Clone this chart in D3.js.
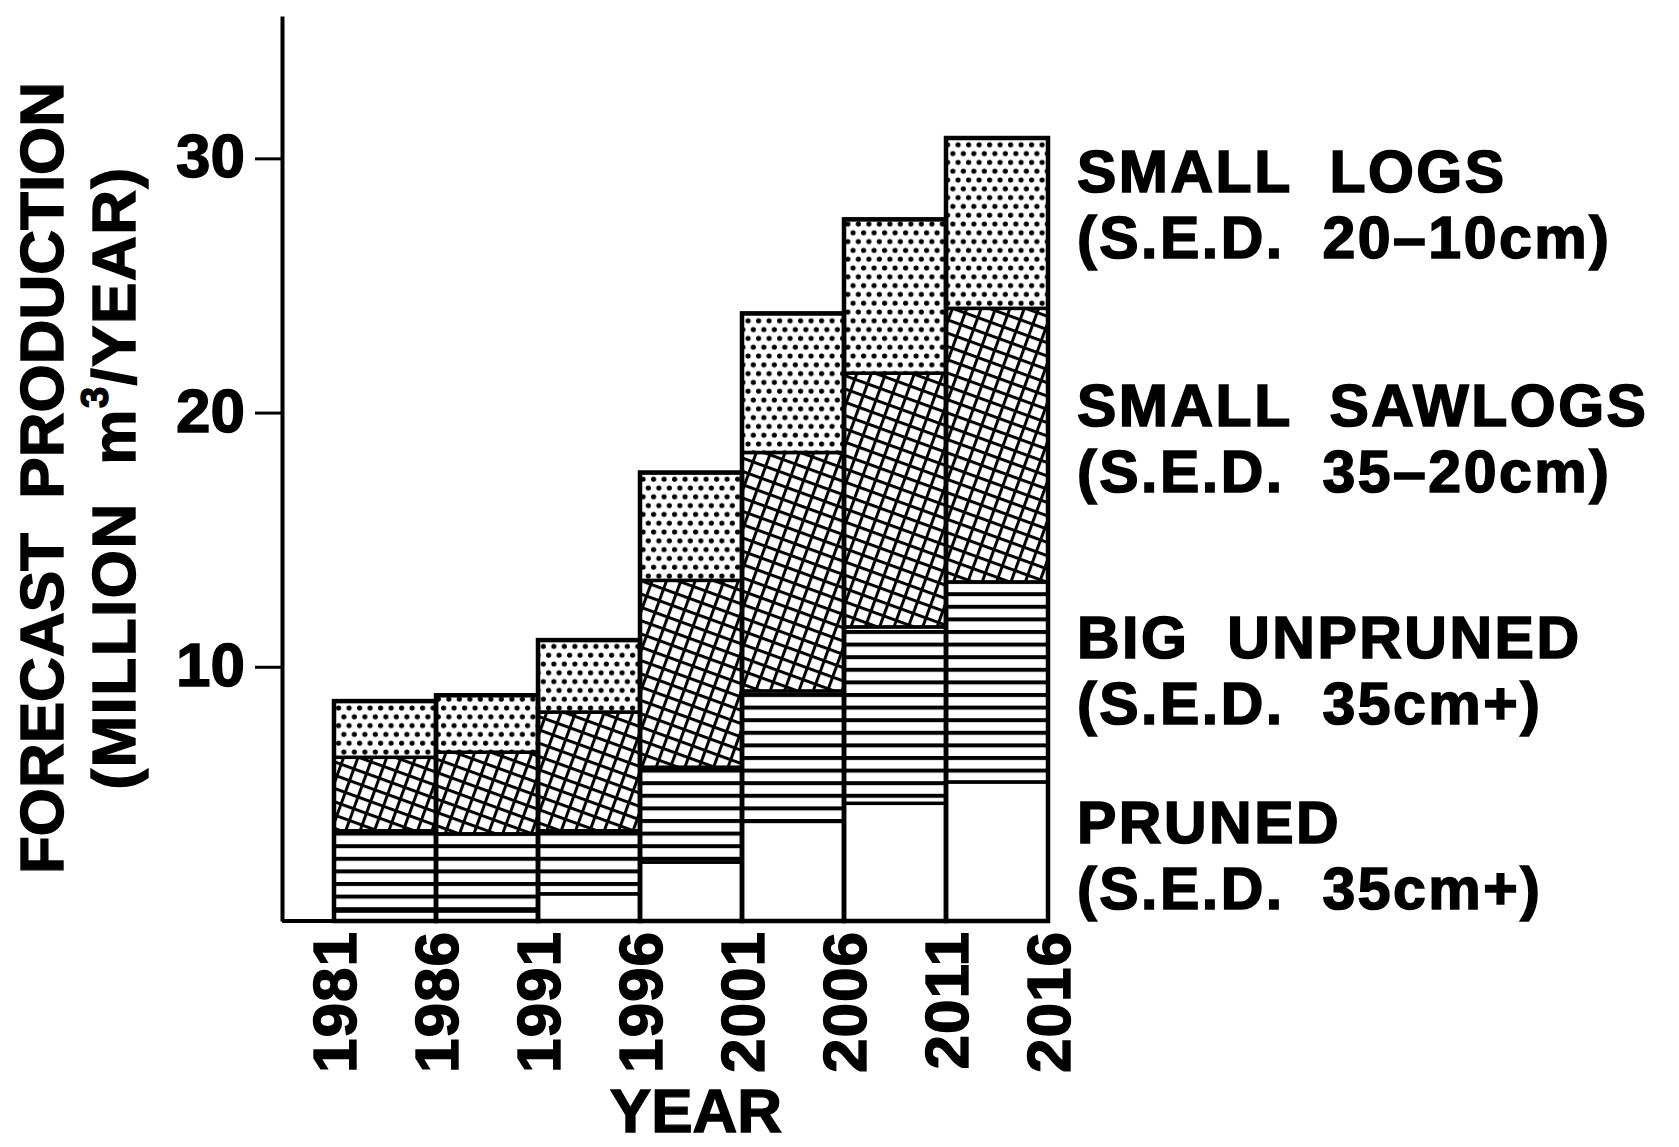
<!DOCTYPE html>
<html>
<head>
<meta charset="utf-8">
<script src="https://cdn.jsdelivr.net/npm/d3@7"></script>
<style>
  html, body { margin: 0; padding: 0; background: #fff; }
  svg { display: block; }
  text { font-family: "Liberation Sans", Arial, Helvetica, sans-serif; font-weight: bold; fill: #000; }
</style>
</head>
<body>
<svg id="chart" width="1679" height="1147"></svg>
<script>
// ---------------- DATA ----------------
const years = [1981, 1986, 1991, 1996, 2001, 2006, 2011, 2016];
const periodStarts = [1981, 1986, 1991, 1996, 2001, 2006, 2011];
const pruned       = [0.40, 0.40, 1.07, 2.32, 3.92, 4.63, 5.47];
const bigUnpruned  = [3.15, 3.03, 2.48, 3.73, 5.13, 6.94, 7.87];
const smallSawlogs = [2.89, 3.21, 4.67, 7.35, 9.38, 9.98, 10.76];
const smallLogs    = [2.21, 2.24, 2.83, 4.24, 5.47, 6.05, 6.70];
const yTicks = [10, 20, 30];
const seriesKeys = ["pruned", "bigUnpruned", "smallSawlogs", "smallLogs"];
const seriesNames = ["PRUNED", "BIG  UNPRUNED", "SMALL  SAWLOGS", "SMALL  LOGS"];
const seriesNotes = ["(S.E.D.  35cm+)", "(S.E.D.  35cm+)", "(S.E.D.  35–20cm)", "(S.E.D.  20–10cm)"];
const yTitle1 = "FORECAST  PRODUCTION";
const xTitle = "YEAR";

// ---------------- LAYOUT ----------------
const svg = d3.select("#chart");
svg.append("rect").attr("width", 1679).attr("height", 1147).attr("fill", "#fff");

const x = d3.scaleLinear().domain([1981, 2016]).range([334, 1048]);
const y = d3.scaleLinear().domain([0, 35.6]).range([921, 16]);
const axisX = 282;

// patterns
const defs = svg.append("defs");
const pStripe = defs.append("pattern").attr("id", "stripes")
  .attr("patternUnits", "userSpaceOnUse").attr("width", 20).attr("height", 12.6);
pStripe.append("rect").attr("width", 20).attr("height", 12.6).attr("fill", "#fff");
pStripe.append("rect").attr("y", 0).attr("width", 20).attr("height", 4).attr("fill", "#000");

const pHatch = defs.append("pattern").attr("id", "hatch")
  .attr("patternUnits", "userSpaceOnUse").attr("width", 13.5).attr("height", 12.5)
  .attr("patternTransform", "rotate(20)");
pHatch.append("rect").attr("width", 13.5).attr("height", 12.5).attr("fill", "#fff");
pHatch.append("rect").attr("x", 0).attr("y", 0).attr("width", 13.5).attr("height", 3).attr("fill", "#000");
pHatch.append("rect").attr("x", 0).attr("y", 0).attr("width", 3).attr("height", 12.5).attr("fill", "#000");

const pDots = defs.append("pattern").attr("id", "dots")
  .attr("patternUnits", "userSpaceOnUse").attr("width", 10.5).attr("height", 17.6);
pDots.append("rect").attr("width", 10.5).attr("height", 17.6).attr("fill", "#fff");
pDots.append("circle").attr("cx", 2.6).attr("cy", 4).attr("r", 2.6).attr("fill", "#000");
pDots.append("circle").attr("cx", 7.85).attr("cy", 12.8).attr("r", 2.6).attr("fill", "#000");

const fills = { pruned: "#fff", bigUnpruned: "url(#stripes)", smallSawlogs: "url(#hatch)", smallLogs: "url(#dots)" };

// data table for stack
const table = periodStarts.map((s, i) => ({
  start: s, end: years[i + 1],
  pruned: pruned[i], bigUnpruned: bigUnpruned[i], smallSawlogs: smallSawlogs[i], smallLogs: smallLogs[i]
}));
const stacked = d3.stack().keys(seriesKeys)(table);

const gBars = svg.append("g");
stacked.forEach(layer => {
  gBars.append("g").selectAll("rect").data(layer).join("rect")
    .attr("x", d => x(d.data.start))
    .attr("width", d => x(d.data.end) - x(d.data.start))
    .attr("y", d => y(d[1]))
    .attr("height", d => y(d[0]) - y(d[1]))
    .attr("fill", fills[layer.key])
    .attr("stroke", "#000")
    .attr("stroke-width", 3.5);
});
// outer outline of each bar
gBars.append("g").selectAll("rect").data(stacked[stacked.length - 1]).join("rect")
  .attr("x", d => x(d.data.start))
  .attr("width", d => x(d.data.end) - x(d.data.start))
  .attr("y", d => y(d[1]))
  .attr("height", d => y(0) - y(d[1]))
  .attr("fill", "none")
  .attr("stroke", "#000")
  .attr("stroke-width", 4.5);

// y axis
const yAxis = svg.append("g").attr("transform", `translate(${axisX},0)`)
  .call(d3.axisLeft(y).tickValues(yTicks).tickSize(27).tickSizeOuter(0).tickPadding(10).tickFormat(d3.format("d")));
yAxis.select(".domain").attr("stroke", "#000").attr("stroke-width", 4);
yAxis.selectAll(".tick line").attr("stroke", "#000").attr("stroke-width", 3);
yAxis.selectAll(".tick text")
  .attr("font-size", 62).attr("font-family", null)
  .attr("dy", "0.30em")
  .attr("stroke", "#000").attr("stroke-width", 1.4);

// baseline
svg.append("line")
  .attr("x1", axisX).attr("x2", x(2016) + 1)
  .attr("y1", y(0)).attr("y2", y(0))
  .attr("stroke", "#000").attr("stroke-width", 4);

// year labels
svg.append("g").selectAll("text").data(years).join("text")
  .attr("transform", d => `translate(${x(d) + 22},931) rotate(-90)`)
  .attr("text-anchor", "end")
  .attr("font-size", 62)
  .attr("letter-spacing", 1)
  .attr("stroke", "#000").attr("stroke-width", 1.4)
  .text(d => d);

// x title
svg.append("text")
  .attr("x", 696).attr("y", 1132)
  .attr("text-anchor", "middle")
  .attr("font-size", 62)
  .attr("stroke", "#000").attr("stroke-width", 1.4)
  .text(xTitle);

// y title (two lines in one text element)
const yt = svg.append("text")
  .attr("transform", "translate(63,478) rotate(-90)")
  .attr("text-anchor", "middle")
  .attr("font-size", 62)
  .style("white-space", "pre")
  .attr("stroke", "#000").attr("stroke-width", 1.4);
yt.append("tspan").attr("x", 0).attr("y", 0).text(yTitle1);
const l2 = yt.append("tspan").attr("x", 0).attr("y", 72).attr("letter-spacing", 1.5);
l2.append("tspan").text("(MILLION  m");
l2.append("tspan").attr("font-size", 38).attr("dy", -27).text("3");
l2.append("tspan").attr("dy", 27).text("/YEAR)");

// right-hand series labels
const labelBase = [843, 658, 426, 192];
const gLab = svg.append("g");
seriesNames.forEach((name, i) => {
  const t = gLab.append("text")
    .attr("font-size", 59)
    .attr("letter-spacing", 2.5)
    .style("white-space", "pre")
    .attr("stroke", "#000").attr("stroke-width", 1.6);
  t.append("tspan").attr("x", 1077).attr("y", labelBase[i]).text(name);
  t.append("tspan").attr("x", 1077).attr("y", labelBase[i] + 66).text(seriesNotes[i]);
});
</script>
</body>
</html>
